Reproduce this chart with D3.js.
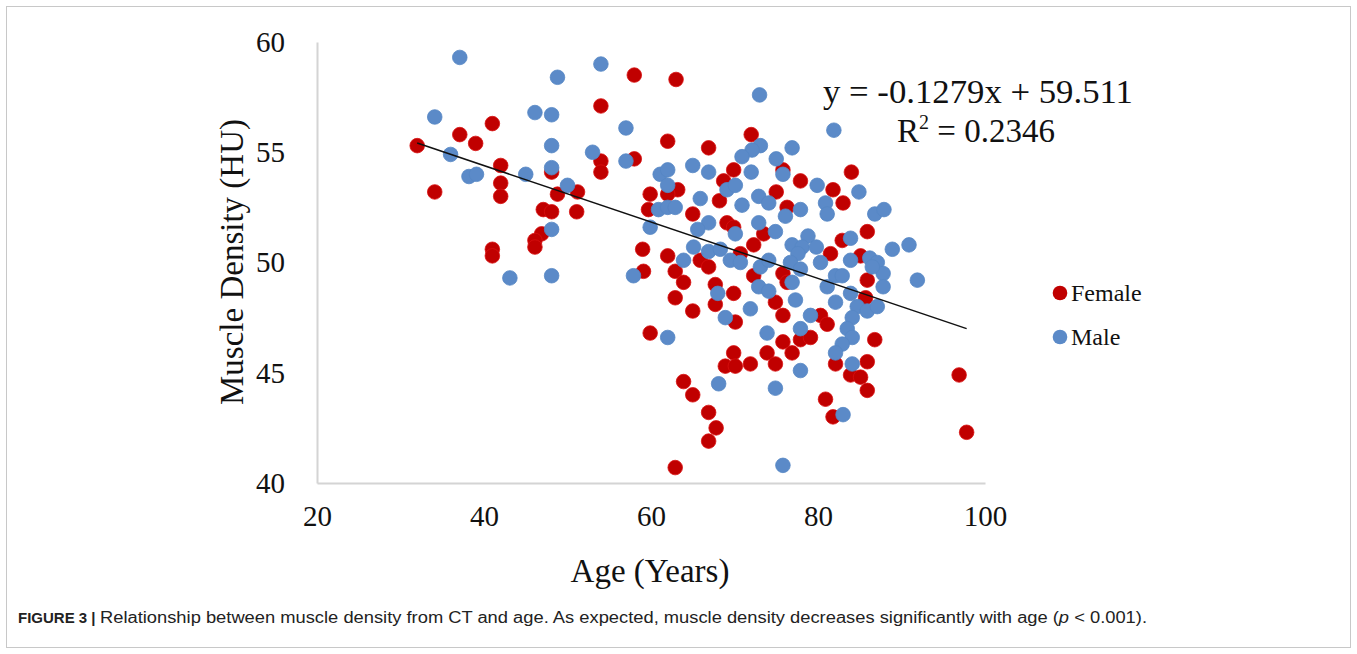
<!DOCTYPE html>
<html>
<head>
<meta charset="utf-8">
<script src="https://cdn.jsdelivr.net/npm/d3@7"></script>
<style>
  html, body { margin: 0; padding: 0; background: #fff; }
  svg { display: block; }
</style>
</head>
<body>
<svg id="chart" width="1357" height="654"></svg>
<script>
// Age (years) and muscle density (HU) per subject
const femaleAge = [32.0,37.1,39.0,41.0,42.0,42.0,42.0,34.1,48.8,47.1,48.1,46.9,46.1,46.1,41.0,41.0,48.1,51.2,51.1,
  58.0,63.0,54.0,62.0,66.9,58.0,54.0,54.0,59.9,63.2,62.0,59.7,65.0,68.2,59.0,62.0,
  72.0,84.0,75.8,69.9,77.9,68.7,75.0,81.8,83.0,85.9,82.9,76.3,73.5,72.3,69.1,69.9,85.1,
  62.9,65.9,66.9,63.9,62.9,65.0,67.7,67.7,59.1,59.9,63.9,65.0,
  69.9,72.3,75.8,81.5,85.9,85.7,74.9,75.8,80.3,81.1,77.9,79.1,70.1,69.9,71.9,68.9,70.1,73.9,75.8,76.9,74.9,82.1,83.9,85.1,85.9,86.8,85.9,80.9,70.7,76.3,
  66.9,67.8,66.9,62.9,81.8,97.8,96.9];
const femaleDensity = [55.3,55.8,55.4,56.3,54.4,53.6,53.0,53.2,53.1,52.4,52.3,51.3,51.0,50.7,50.6,50.3,54.1,53.2,52.3,
  58.5,58.3,57.1,55.5,55.2,54.7,54.6,54.1,53.1,53.3,53.1,52.4,52.2,52.8,50.6,50.3,
  55.8,54.1,54.2,54.2,53.7,53.7,53.2,53.3,52.7,51.4,51.0,52.5,51.3,50.8,51.8,51.6,50.3,
  49.6,50.1,49.8,49.1,48.4,47.8,49.0,48.1,49.6,46.8,44.6,44.0,
  48.6,49.4,49.5,50.4,49.2,48.4,48.2,47.6,47.6,47.2,46.5,46.6,47.3,45.9,45.4,45.3,45.3,45.9,46.4,45.9,45.4,45.4,44.9,44.8,45.5,46.5,44.2,43.8,50.4,49.1,
  43.2,42.5,41.9,40.7,43.0,42.3,44.9];

const maleAge = [37.1,48.8,34.1,46.1,48.1,36.0,38.2,39.1,45.0,48.1,48.1,48.1,43.1,48.1,
  54.0,57.0,53.0,57.0,50.0,61.1,62.0,62.0,65.0,66.9,65.9,60.9,62.0,62.9,59.9,66.9,65.6,65.1,66.9,63.9,
  73.0,81.9,76.9,73.1,72.1,70.9,75.0,72.0,75.8,79.9,84.9,69.1,70.1,72.9,70.9,74.1,76.1,77.9,80.9,81.1,86.8,87.9,
  72.9,70.1,74.9,78.8,83.9,76.9,78.1,79.8,88.9,68.3,86.2,
  77.6,80.3,83.9,87.1,87.8,86.5,82.1,82.9,87.8,83.9,84.7,85.9,87.1,84.1,83.5,84.1,82.9,82.1,84.1,
  69.5,70.7,73.1,74.1,76.7,77.9,72.9,74.1,76.9,77.3,81.1,82.1,79.1,77.9,73.9,71.9,68.9,77.9,74.9,
  57.9,62.0,68.0,68.1,83.0,75.8,90.9,91.9];
const maleDensity = [59.3,58.4,56.6,56.8,56.7,54.9,53.9,54.0,54.0,55.3,54.3,51.5,49.3,49.4,
  59.0,56.1,55.0,54.6,53.5,54.0,54.2,53.5,54.4,54.1,52.9,52.4,52.5,52.5,51.6,51.8,51.5,50.7,50.5,50.1,
  57.6,56.0,55.2,55.3,55.1,54.8,54.7,54.1,54.0,53.5,53.2,53.3,53.5,53.0,52.6,52.7,52.1,52.4,52.7,52.2,52.2,52.4,
  51.8,51.3,51.4,51.2,51.1,50.8,50.7,50.7,50.6,50.6,50.2,
  50.4,50.0,50.1,50.0,49.5,49.8,49.4,49.4,48.9,48.6,48.0,47.8,48.0,47.5,47.0,46.6,46.3,45.9,45.4,
  50.1,50.0,49.8,50.1,50.0,49.7,48.9,48.7,49.1,48.3,48.9,48.2,47.6,47.0,46.8,47.9,47.5,45.1,44.3,
  49.4,46.6,48.6,44.5,43.1,40.8,50.8,49.2];

// Linear trend fitted over all subjects
const trendSlope = -0.1279;
const trendIntercept = 59.511;
const trendR2 = "0.2346";

const xTicks = [20, 40, 60, 80, 100];
const yTicks = [40, 45, 50, 55, 60];
const seriesNames = ["Female", "Male"];
const seriesColors = ["#C00000", "#5B8AC8"];
const seriesStrokes = ["#D81010", "#5586C4"];

const svg = d3.select("#chart");
const serif = "'Liberation Serif', 'Times New Roman', serif";

// figure frame
svg.append("rect")
  .attr("x", 6.5).attr("y", 6.5).attr("width", 1344).attr("height", 641)
  .attr("fill", "none").attr("stroke", "#c8c8c8").attr("stroke-width", 1);

const x = d3.scaleLinear().domain([20, 100]).range([317, 985]);
const y = d3.scaleLinear().domain([40, 60]).range([483, 42]);

// axes
const xAxis = svg.append("g")
  .attr("transform", `translate(0,${y(40)})`)
  .call(d3.axisBottom(x).tickValues(xTicks).tickSize(0).tickPadding(22));
const yAxis = svg.append("g")
  .attr("transform", `translate(${x(20)},0)`)
  .call(d3.axisLeft(y).tickValues(yTicks).tickSize(0).tickPadding(32));

[xAxis, yAxis].forEach(g => {
  g.select(".domain").attr("stroke", "#d4d4d4").attr("stroke-width", 2);
  g.selectAll("text")
    .attr("font-family", serif)
    .attr("font-size", 29)
    .attr("fill", "#111");
});

// axis titles
svg.append("text")
  .attr("x", 650).attr("y", 582)
  .attr("text-anchor", "middle")
  .attr("font-family", serif).attr("font-size", 33).attr("fill", "#111")
  .text("Age (Years)");
svg.append("text")
  .attr("transform", "translate(243,262) rotate(-90)")
  .attr("text-anchor", "middle")
  .attr("font-family", serif).attr("font-size", 33).attr("fill", "#111")
  .text("Muscle Density (HU)");

// data points
const series = [
  { ages: femaleAge, dens: femaleDensity },
  { ages: maleAge, dens: maleDensity }
];
series.forEach((s, i) => {
  svg.append("g")
    .selectAll("circle")
    .data(s.ages.map((a, k) => [a, s.dens[k]]))
    .join("circle")
    .attr("cx", d => x(d[0]))
    .attr("cy", d => y(d[1]))
    .attr("r", 7.3)
    .attr("fill", seriesColors[i])
    .attr("stroke", seriesStrokes[i])
    .attr("stroke-width", 0.8);
});

// trend line across the observed age range
const allAges = femaleAge.concat(maleAge);
const ageExtent = d3.extent(allAges);
svg.append("line")
  .attr("x1", x(ageExtent[0])).attr("y1", y(trendSlope * ageExtent[0] + trendIntercept))
  .attr("x2", x(ageExtent[1])).attr("y2", y(trendSlope * ageExtent[1] + trendIntercept))
  .attr("stroke", "#111").attr("stroke-width", 1.5);

// equation label
svg.append("text")
  .attr("x", 978).attr("y", 103)
  .attr("text-anchor", "middle")
  .attr("font-family", serif).attr("font-size", 33).attr("fill", "#111")
  .attr("textLength", 310).attr("lengthAdjust", "spacingAndGlyphs")
  .text(`y = ${trendSlope}x + ${trendIntercept}`);
const r2 = svg.append("text")
  .attr("x", 897).attr("y", 142)
  .attr("font-family", serif).attr("font-size", 33).attr("fill", "#111");
r2.append("tspan").text("R");
r2.append("tspan").attr("font-size", 20).attr("dy", -13).text("2");
r2.append("tspan").attr("dy", 13).text(` = ${trendR2}`);

// legend
const legend = svg.append("g");
seriesNames.forEach((name, i) => {
  const ly = 293 + i * 44;
  legend.append("circle")
    .attr("cx", 1060).attr("cy", ly).attr("r", 7.3)
    .attr("fill", seriesColors[i]);
  legend.append("text")
    .attr("x", 1071).attr("y", ly + 8)
    .attr("font-family", serif).attr("font-size", 24).attr("fill", "#111")
    .text(name);
});

// caption
const sans = "'Liberation Sans', Arial, sans-serif";
svg.append("text")
  .attr("x", 18).attr("y", 623)
  .attr("font-family", sans).attr("font-size", 15).attr("font-weight", "bold").attr("fill", "#222")
  .text("FIGURE 3 |");
const cap = svg.append("text")
  .attr("x", 100).attr("y", 623)
  .attr("font-family", sans).attr("font-size", 16).attr("fill", "#222")
  .attr("textLength", 1047).attr("lengthAdjust", "spacingAndGlyphs");
cap.append("tspan").text("Relationship between muscle density from CT and age. As expected, muscle density decreases significantly with age (");
cap.append("tspan").attr("font-style", "italic").text("p");
cap.append("tspan").text(" < 0.001).");
</script>
</body>
</html>
